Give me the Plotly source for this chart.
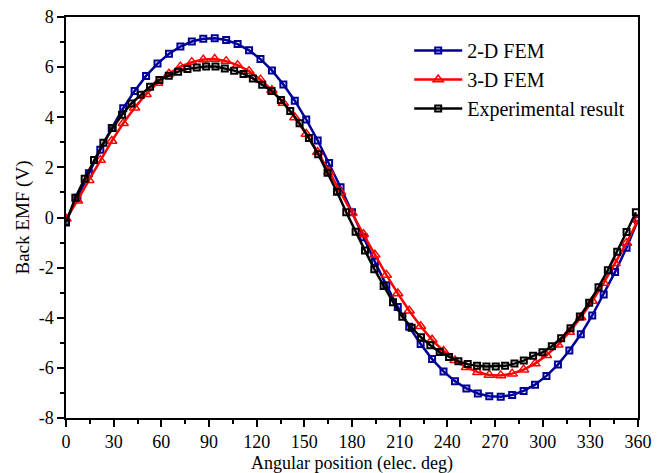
import plotly.graph_objects as go

# Angles (elec. deg)
angle_fem = [0, 7.2, 14.4, 21.6, 28.8, 36, 43.2, 50.4, 57.6, 64.8, 72, 79.2, 86.4, 93.6, 100.8,
             108, 115.2, 122.4, 129.6, 136.8, 144, 151.2, 158.4, 165.6, 172.8, 180, 187.2, 194.4,
             201.6, 208.8, 216, 223.2, 230.4, 237.6, 244.8, 252, 259.2, 266.4, 273.6, 280.8, 288,
             295.2, 302.4, 309.6, 316.8, 324, 331.2, 338.4, 345.6, 352.8, 360]

emf_2d = [-0.15, 0.79, 1.77, 2.70, 3.57, 4.36, 5.05, 5.65, 6.14, 6.53, 6.82, 7.02, 7.13, 7.15, 7.08,
          6.92, 6.67, 6.32, 5.87, 5.31, 4.66, 3.91, 3.07, 2.17, 1.21, 0.21, -0.79, -1.77,
          -2.70, -3.57, -4.36, -5.05, -5.65, -6.14, -6.53, -6.82, -7.02, -7.13, -7.15, -7.08, -6.92,
          -6.67, -6.32, -5.87, -5.31, -4.66, -3.91, -3.07, -2.17, -1.21, -0.1]

emf_3d = [-0.05, 0.67, 1.49, 2.29, 3.05, 3.76, 4.38, 4.92, 5.37, 5.74, 6.02, 6.20, 6.30, 6.32, 6.24,
          6.08, 5.84, 5.50, 5.08, 4.57, 3.99, 3.33, 2.61, 1.83, 1.02, 0.18, -0.67, -1.49,
          -2.29, -3.03, -3.72, -4.34, -4.88, -5.33, -5.70, -5.98, -6.17, -6.28, -6.30, -6.23, -6.07,
          -5.83, -5.50, -5.08, -4.57, -3.99, -3.33, -2.61, -1.83, -1.02, -0.1]

angle_exp = [0, 5.88, 11.76, 17.64, 23.52, 29.4, 35.28, 41.16, 47.04, 52.92, 58.8, 64.68, 70.56,
             76.44, 82.32, 88.2, 94.08, 99.96, 105.84, 111.72, 117.6, 123.48, 129.36, 135.24,
             141.12, 147.0, 152.88, 158.76, 164.64, 170.52, 176.4, 182.28, 188.16, 194.04, 199.92,
             205.8, 211.68, 217.56, 223.44, 229.32, 235.2, 241.08, 246.96, 252.84, 258.72, 264.6,
             270.48, 276.36, 282.24, 288.12, 294.0, 299.88, 305.76, 311.64, 317.52, 323.4, 329.28,
             335.16, 341.04, 346.92, 352.8, 358.68]

emf_exp = [-0.2, 0.79, 1.55, 2.29, 2.98, 3.57, 4.10, 4.55, 4.90, 5.22, 5.49, 5.66, 5.82,
           5.93, 5.99, 6.02, 6.02, 5.95, 5.86, 5.73, 5.55, 5.30, 5.05, 4.69,
           4.25, 3.76, 3.17, 2.52, 1.79, 1.03, 0.21, -0.57, -1.32, -2.06, -2.73,
           -3.38, -3.96, -4.40, -4.78, -5.10, -5.37, -5.57, -5.74, -5.85, -5.92, -5.95,
           -5.95, -5.92, -5.83, -5.71, -5.52, -5.38, -5.14, -4.82, -4.42, -3.95, -3.40,
           -2.78, -2.10, -1.37, -0.58, 0.21]

x_ticks = [0, 30, 60, 90, 120, 150, 180, 210, 240, 270, 300, 330, 360]
y_ticks = [-8, -6, -4, -2, 0, 2, 4, 6, 8]
y_tick_labels = ["-8", "-6", "-4", "-2", "0", "2", "4", "6", "8"]

FONT = "Liberation Serif, Times New Roman, serif"

fig = go.Figure()
fig.add_trace(go.Scatter(
    x=angle_fem, y=emf_2d, name="2-D FEM", mode="lines+markers",
    line=dict(color="#000099", width=2.5),
    marker=dict(symbol="square-open", size=6, color="#000099", line=dict(width=2)),
))
fig.add_trace(go.Scatter(
    x=angle_fem, y=emf_3d, name="3-D FEM", mode="lines+markers",
    line=dict(color="#ff0000", width=2.5),
    marker=dict(symbol="triangle-up-open", size=9, color="#ff0000", line=dict(width=1.5)),
))
fig.add_trace(go.Scatter(
    x=angle_exp, y=emf_exp, name="Experimental result", mode="lines+markers",
    line=dict(color="#000000", width=2.5),
    marker=dict(symbol="square-open", size=6, color="#000000", line=dict(width=2)),
))

axis_common = dict(
    showline=True, linecolor="black", linewidth=1.5, mirror=True,
    ticks="outside", tickcolor="black", tickwidth=1.5, ticklen=7,
    showgrid=False, zeroline=False, automargin=False,
    tickfont=dict(family=FONT, size=18, color="black"),
)

fig.update_xaxes(
    range=[0, 360], tickmode="array", tickvals=x_ticks,
    ticktext=[str(v) for v in x_ticks],
    minor=dict(tickmode="linear", tick0=0, dtick=15, ticks="outside", ticklen=4,
               tickwidth=1.5, tickcolor="black", showgrid=False),
    **axis_common,
)
fig.update_yaxes(
    range=[-8, 8], tickmode="array", tickvals=y_ticks, ticktext=y_tick_labels,
    minor=dict(tickmode="linear", tick0=0, dtick=1, ticks="outside", ticklen=4,
               tickwidth=1.5, tickcolor="black", showgrid=False),
    title=dict(text="Back EMF (V)", font=dict(family=FONT, size=19, color="black"), standoff=4),
    **axis_common,
)

fig.add_annotation(
    text="Angular position (elec. deg)", xref="paper", yref="paper",
    x=0.5, y=-0.142, xanchor="center", yanchor="bottom", showarrow=False,
    borderpad=0, font=dict(family=FONT, size=18, color="black"),
)

fig.update_layout(
    width=669, height=473,
    margin=dict(l=66, r=31, t=17, b=55),
    plot_bgcolor="white", paper_bgcolor="white",
    font=dict(family=FONT, size=18, color="black"),
    showlegend=True,
    legend=dict(x=0.6, y=0.965, xanchor="left", yanchor="top",
                bgcolor="rgba(0,0,0,0)", borderwidth=0,
                font=dict(family=FONT, size=20, color="black"),
                tracegroupgap=0, itemwidth=48),
)

fig.write_html("out.html")
